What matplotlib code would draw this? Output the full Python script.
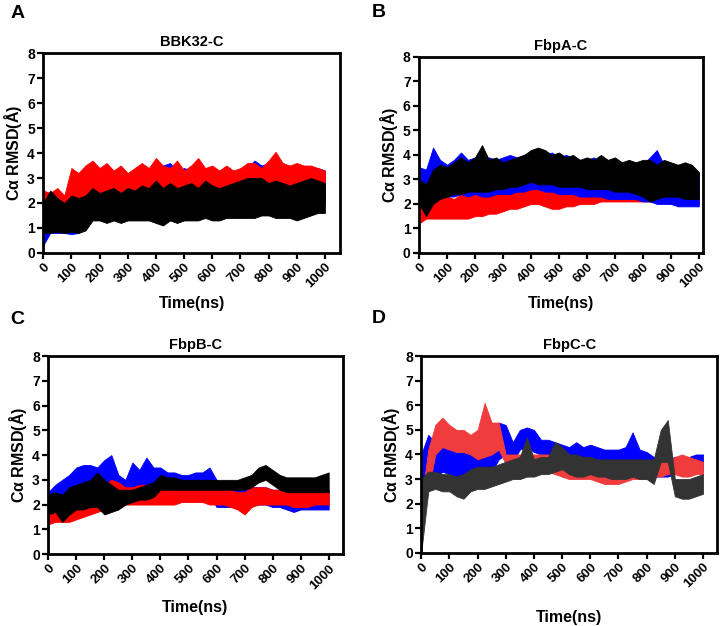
import numpy as np
import matplotlib
matplotlib.use("Agg")
import matplotlib.pyplot as plt

plt.rcParams['font.family'] = ['Liberation Sans', 'DejaVu Sans']
plt.rcParams['font.weight'] = 'bold'
plt.rcParams['mathtext.default'] = 'regular'

# time grid (ns), envelopes read every 25 ns
time_ns = np.arange(0, 1001, 25)

# ---- A: BBK32-C ----
a_blue_lo = [0.3, 0.8, 0.8, 0.8, 0.75, 0.8, 1.0, 1.4, 1.5, 1.5, 1.5, 1.5, 1.5, 1.5, 1.5, 1.6, 1.6, 1.6, 1.6, 1.6, 1.6,
             1.6, 1.6, 1.6, 1.6, 1.6, 1.6, 1.7, 1.7, 1.7, 1.8, 1.8, 1.8, 1.8, 1.8, 1.8, 1.9, 1.9, 2.0, 2.0, 2.0]
a_blue_hi = [2.2, 2.1, 2.2, 2.1, 2.3, 2.6, 3.5, 3.0, 3.2, 3.1, 3.2, 3.0, 3.2, 3.3, 3.2, 3.3, 3.4, 3.5, 3.6, 3.3, 3.4,
             3.3, 3.2, 3.4, 3.1, 3.3, 3.2, 3.3, 3.2, 3.4, 3.7, 3.5, 3.6, 3.5, 3.6, 3.4, 3.5, 3.3, 3.4, 3.4, 3.3]
a_red_lo = [0.9, 0.9, 1.0, 1.0, 1.3, 1.8, 1.9, 2.0, 2.0, 2.0, 2.0, 2.1, 2.1, 2.1, 2.1, 2.2, 2.2, 2.2, 2.2, 2.2, 2.2,
            2.2, 2.2, 2.2, 2.2, 2.2, 2.2, 2.3, 2.3, 2.3, 2.3, 2.3, 2.4, 2.4, 2.4, 2.4, 2.5, 2.5, 2.5, 2.6, 2.6]
a_red_hi = [2.5, 2.4, 2.6, 2.3, 3.4, 3.2, 3.5, 3.7, 3.4, 3.6, 3.3, 3.5, 3.2, 3.4, 3.6, 3.4, 3.8, 3.5, 3.4, 3.7, 3.3,
            3.5, 3.8, 3.4, 3.5, 3.3, 3.5, 3.3, 3.4, 3.6, 3.6, 3.4, 3.7, 4.05, 3.6, 3.5, 3.6, 3.5, 3.5, 3.4, 3.3]
a_black_lo = [0.8, 0.8, 0.85, 0.8, 0.85, 0.8, 0.9, 1.3, 1.3, 1.2, 1.3, 1.2, 1.3, 1.3, 1.3, 1.3, 1.2, 1.1, 1.3, 1.2, 1.3,
              1.3, 1.3, 1.4, 1.3, 1.3, 1.4, 1.4, 1.4, 1.4, 1.4, 1.5, 1.5, 1.4, 1.4, 1.4, 1.3, 1.4, 1.5, 1.6, 1.6]
a_black_hi = [2.0, 2.5, 2.2, 2.0, 2.3, 2.2, 2.3, 2.6, 2.4, 2.5, 2.6, 2.4, 2.6, 2.5, 2.7, 2.6, 2.9, 2.6, 2.8, 2.6, 2.7,
              2.8, 2.6, 2.9, 2.7, 2.6, 2.7, 2.8, 2.9, 3.0, 3.0, 3.0, 2.8, 2.9, 2.8, 2.7, 2.8, 2.9, 3.0, 2.9, 2.8]

# ---- B: FbpA-C ----
b_blue_lo = [2.3, 2.0, 2.2, 2.3, 2.3, 2.3, 2.4, 2.3, 2.4, 2.3, 2.3, 2.4, 2.4, 2.4, 2.5, 2.5, 2.6, 2.6, 2.5, 2.5, 2.4,
             2.4, 2.4, 2.3, 2.3, 2.3, 2.3, 2.2, 2.2, 2.2, 2.2, 2.2, 2.1, 2.1, 2.0, 2.0, 2.0, 1.9, 1.9, 1.9, 1.9]
b_blue_hi = [3.5, 3.4, 4.3, 3.8, 3.6, 3.8, 4.1, 3.8, 3.9, 3.8, 3.9, 3.8, 3.9, 4.0, 3.9, 4.0, 4.1, 4.0, 4.0, 4.1, 3.9,
             4.0, 3.9, 3.8, 3.8, 3.9, 3.7, 3.7, 3.6, 3.7, 3.6, 3.7, 3.6, 3.9, 4.2, 3.6, 3.5, 3.6, 3.5, 3.4, 3.3]
b_red_lo = [1.2, 1.4, 1.4, 1.4, 1.4, 1.4, 1.4, 1.4, 1.5, 1.5, 1.6, 1.6, 1.7, 1.8, 1.8, 1.9, 2.0, 2.0, 1.9, 1.8, 1.8,
            1.9, 1.9, 2.0, 2.0, 2.0, 2.1, 2.1, 2.1, 2.1, 2.1, 2.1, 2.1, 2.1, 2.1, 2.1, 2.0, 2.0, 2.0, 2.0, 2.0]
b_red_hi = [2.3, 2.1, 2.2, 2.3, 2.3, 2.2, 2.4, 2.3, 2.4, 2.3, 2.4, 2.4, 2.5, 2.5, 2.6, 2.7, 2.8, 2.8, 2.7, 2.7, 2.6,
            2.6, 2.7, 2.6, 2.7, 2.6, 2.6, 2.6, 2.6, 2.5, 2.6, 2.5, 2.5, 2.5, 2.5, 2.4, 2.5, 2.4, 2.5, 2.4, 2.4]
b_black_lo = [2.0, 1.5, 2.0, 2.2, 2.3, 2.4, 2.4, 2.5, 2.5, 2.5, 2.5, 2.6, 2.6, 2.7, 2.7, 2.8, 2.9, 2.8, 2.8, 2.8, 2.7,
              2.7, 2.7, 2.7, 2.6, 2.6, 2.6, 2.6, 2.5, 2.5, 2.5, 2.4, 2.3, 2.1, 2.2, 2.3, 2.3, 2.3, 2.2, 2.2, 2.2]
b_black_hi = [3.0, 2.8, 3.4, 3.6, 3.5, 3.7, 3.9, 3.7, 3.9, 4.4, 3.8, 3.9, 3.7, 3.8, 3.9, 4.0, 4.2, 4.3, 4.2, 4.0, 4.1,
              3.9, 4.0, 3.8, 3.9, 3.8, 4.0, 3.8, 3.9, 3.7, 3.8, 3.7, 3.8, 3.8, 3.6, 3.8, 3.7, 3.6, 3.7, 3.6, 3.3]

# ---- C: FbpB-C ----
c_blue_lo = [1.5, 1.7, 1.5, 1.7, 2.0, 2.1, 2.2, 2.2, 2.2, 2.2, 2.1, 2.0, 2.2, 2.3, 2.4, 2.5, 2.6, 2.6, 2.6, 2.5, 2.5,
             2.4, 2.4, 2.4, 1.9, 1.9, 1.9, 2.0, 2.1, 2.0, 2.0, 2.0, 1.9, 1.9, 1.8, 1.7, 1.8, 1.8, 1.8, 1.8, 1.8]
c_blue_hi = [2.5, 2.8, 3.0, 3.2, 3.5, 3.6, 3.6, 3.5, 3.8, 4.0, 3.2, 3.0, 3.7, 3.4, 3.9, 3.5, 3.5, 3.3, 3.3, 3.2, 3.2,
             3.3, 3.3, 3.5, 3.0, 2.8, 2.6, 2.7, 2.8, 2.7, 2.7, 2.7, 2.6, 2.6, 2.5, 2.5, 2.5, 2.6, 2.6, 2.6, 2.6]
c_red_lo = [1.2, 1.3, 1.3, 1.3, 1.4, 1.5, 1.6, 1.7, 1.8, 1.9, 1.9, 2.0, 2.0, 2.0, 2.0, 2.0, 2.0, 2.0, 2.0, 2.1, 2.1,
            2.1, 2.1, 2.0, 2.0, 2.0, 1.9, 1.8, 1.6, 1.9, 2.0, 2.0, 2.0, 2.0, 2.0, 1.9, 1.9, 1.9, 2.0, 2.0, 2.0]
c_red_hi = [2.3, 2.0, 2.0, 2.1, 2.3, 2.4, 2.5, 2.6, 2.8, 3.0, 2.9, 2.7, 2.7, 2.8, 2.8, 2.8, 2.7, 2.7, 2.6, 2.6, 2.6,
            2.6, 2.6, 2.6, 2.6, 2.6, 2.6, 2.5, 2.5, 2.7, 2.7, 2.7, 2.6, 2.6, 2.6, 2.6, 2.6, 2.6, 2.6, 2.6, 2.6]
c_black_lo = [1.6, 1.7, 1.3, 1.6, 1.8, 1.8, 1.9, 1.9, 1.6, 1.7, 1.8, 2.0, 2.1, 2.2, 2.2, 2.3, 2.6, 2.6, 2.6, 2.6, 2.6,
              2.6, 2.6, 2.6, 2.6, 2.6, 2.6, 2.6, 2.6, 2.7, 2.9, 3.0, 2.8, 2.6, 2.5, 2.5, 2.5, 2.5, 2.5, 2.5, 2.5]
c_black_hi = [2.4, 2.5, 2.4, 2.7, 2.8, 2.9, 3.0, 3.3, 3.0, 2.8, 2.6, 2.6, 2.6, 2.7, 2.8, 2.9, 3.2, 3.1, 3.1, 3.0, 3.0,
              3.0, 3.0, 3.0, 3.0, 3.0, 3.0, 3.0, 3.1, 3.2, 3.5, 3.6, 3.4, 3.2, 3.1, 3.1, 3.1, 3.1, 3.1, 3.2, 3.3]

# ---- D: FbpC-C ----
d_blue_lo = [0.5, 3.7, 3.0, 3.3, 3.2, 3.1, 3.0, 3.0, 3.0, 3.1, 3.3, 3.8, 4.0, 3.7, 4.2, 4.3, 4.1, 4.0, 3.9, 3.6, 3.1,
             3.1, 3.2, 3.3, 3.5, 3.4, 3.3, 3.2, 3.1, 3.1, 3.2, 3.2, 3.2, 3.1, 3.1, 3.1, 3.2, 3.2, 3.3, 3.3, 3.3]
d_blue_hi = [4.0, 4.8, 4.5, 4.3, 4.2, 4.1, 4.3, 4.0, 4.0, 4.2, 4.8, 5.3, 5.2, 4.5, 5.0, 5.1, 5.0, 4.6, 4.6, 4.5, 4.4,
             4.3, 4.5, 4.3, 4.4, 4.3, 4.2, 4.2, 4.2, 4.3, 4.9, 4.2, 4.1, 3.9, 3.8, 3.8, 3.9, 3.9, 3.9, 4.0, 4.0]
d_red_lo = [1.4, 2.5, 4.0, 4.3, 4.2, 4.1, 4.1, 4.0, 3.8, 3.9, 4.0, 4.2, 3.6, 3.5, 3.5, 3.4, 3.4, 3.3, 3.3, 3.2, 3.1,
            3.0, 3.0, 3.0, 3.0, 2.9, 2.8, 2.8, 2.8, 2.9, 3.0, 3.0, 3.0, 3.1, 3.1, 3.2, 3.2, 3.1, 3.1, 3.2, 3.2]
d_red_hi = [2.0, 4.2, 5.2, 5.5, 5.2, 5.0, 5.0, 4.8, 5.0, 6.1, 5.3, 5.3, 4.0, 4.0, 4.0, 4.0, 4.0, 4.0, 4.0, 3.9, 3.8,
            3.7, 3.6, 3.7, 3.7, 3.6, 3.5, 3.4, 3.4, 3.5, 3.5, 3.5, 3.5, 3.6, 3.7, 3.7, 3.9, 4.0, 3.9, 3.8, 3.7]
d_black_lo = [0.0, 2.5, 2.6, 2.5, 2.5, 2.3, 2.2, 2.5, 2.6, 2.6, 2.7, 2.8, 2.9, 3.0, 3.0, 3.1, 3.1, 3.2, 3.2, 3.3, 3.4,
              3.2, 3.1, 3.1, 3.2, 3.1, 3.1, 3.0, 3.0, 3.0, 3.1, 3.0, 3.0, 2.8, 3.7, 3.7, 2.3, 2.2, 2.2, 2.3, 2.4]
d_black_hi = [3.0, 3.3, 3.3, 3.2, 3.2, 3.1, 3.2, 3.4, 3.5, 3.5, 3.5, 3.6, 3.7, 3.8, 3.9, 4.7, 3.8, 3.9, 3.9, 4.5, 4.3,
              4.0, 4.0, 3.9, 3.9, 3.8, 3.8, 3.8, 3.8, 3.8, 3.8, 3.8, 3.8, 3.8, 5.0, 5.4, 3.0, 3.0, 3.0, 3.1, 3.2]

titles = ['BBK32-C', 'FbpA-C', 'FbpB-C', 'FbpC-C']
letters = ['A', 'B', 'C', 'D']
xticks = [0, 100, 200, 300, 400, 500, 600, 700, 800, 900, 1000]
yticks = [0, 1, 2, 3, 4, 5, 6, 7, 8]

# axes boxes [left, bottom, width, height] in figure coords
boxes = [[0.060, 0.596, 0.412, 0.319],
         [0.582, 0.596, 0.394, 0.313],
         [0.067, 0.115, 0.409, 0.316],
         [0.585, 0.117, 0.411, 0.314]]
xmax = [1053, 1014, 1050, 1050]
letter_pos = [(0.014, 0.978), (0.517, 0.980), (0.014, 0.489), (0.517, 0.492)]
xlabel_pad = [4, 4, 6, 14]

# (lo, hi, colour) in drawing order, per panel
panels = [
    [(a_blue_lo, a_blue_hi, '#0000ff'), (a_red_lo, a_red_hi, '#ff0000'), (a_black_lo, a_black_hi, '#000000')],
    [(b_red_lo, b_red_hi, '#ff0000'), (b_blue_lo, b_blue_hi, '#0000ff'), (b_black_lo, b_black_hi, '#000000')],
    [(c_blue_lo, c_blue_hi, '#0000ff'), (c_red_lo, c_red_hi, '#ff0000'), (c_black_lo, c_black_hi, '#000000')],
    [(d_blue_lo, d_blue_hi, '#0000ff'), (d_red_lo, d_red_hi, '#f03c3c'), (d_black_lo, d_black_hi, '#333333')],
]

fig = plt.figure(figsize=(7.2, 6.26), dpi=100)

for i in range(4):
    ax = fig.add_axes(boxes[i])
    for lo, hi, col in panels[i]:
        ax.fill_between(time_ns, lo, hi, color=col, linewidth=0.6, edgecolor=col)
    ax.set_xlim(0, xmax[i])
    ax.set_ylim(0, 8)
    ax.set_xticks(xticks)
    ax.set_yticks(yticks)
    ax.set_xticklabels([str(t) for t in xticks], rotation=45, ha='right', rotation_mode='anchor',
                       fontsize=9.5, fontweight='bold')
    ax.set_yticklabels([str(t) for t in yticks], fontsize=10, fontweight='bold')
    for s in ax.spines.values():
        s.set_linewidth(2)
    ax.tick_params(width=1.6, length=4, pad=2)
    ax.set_title(titles[i], fontsize=10.5, fontweight='bold', pad=5)
    ax.set_xlabel('Time(ns)', fontsize=11.5, fontweight='bold', labelpad=xlabel_pad[i])
    ax.set_ylabel(r'C$\alpha$ RMSD($\AA$)', fontsize=11.5, fontweight='bold', labelpad=2)
    fig.text(letter_pos[i][0], letter_pos[i][1], letters[i], fontsize=14, fontweight='bold',
             ha='left', va='center')

fig.savefig('out.png', dpi=100)
